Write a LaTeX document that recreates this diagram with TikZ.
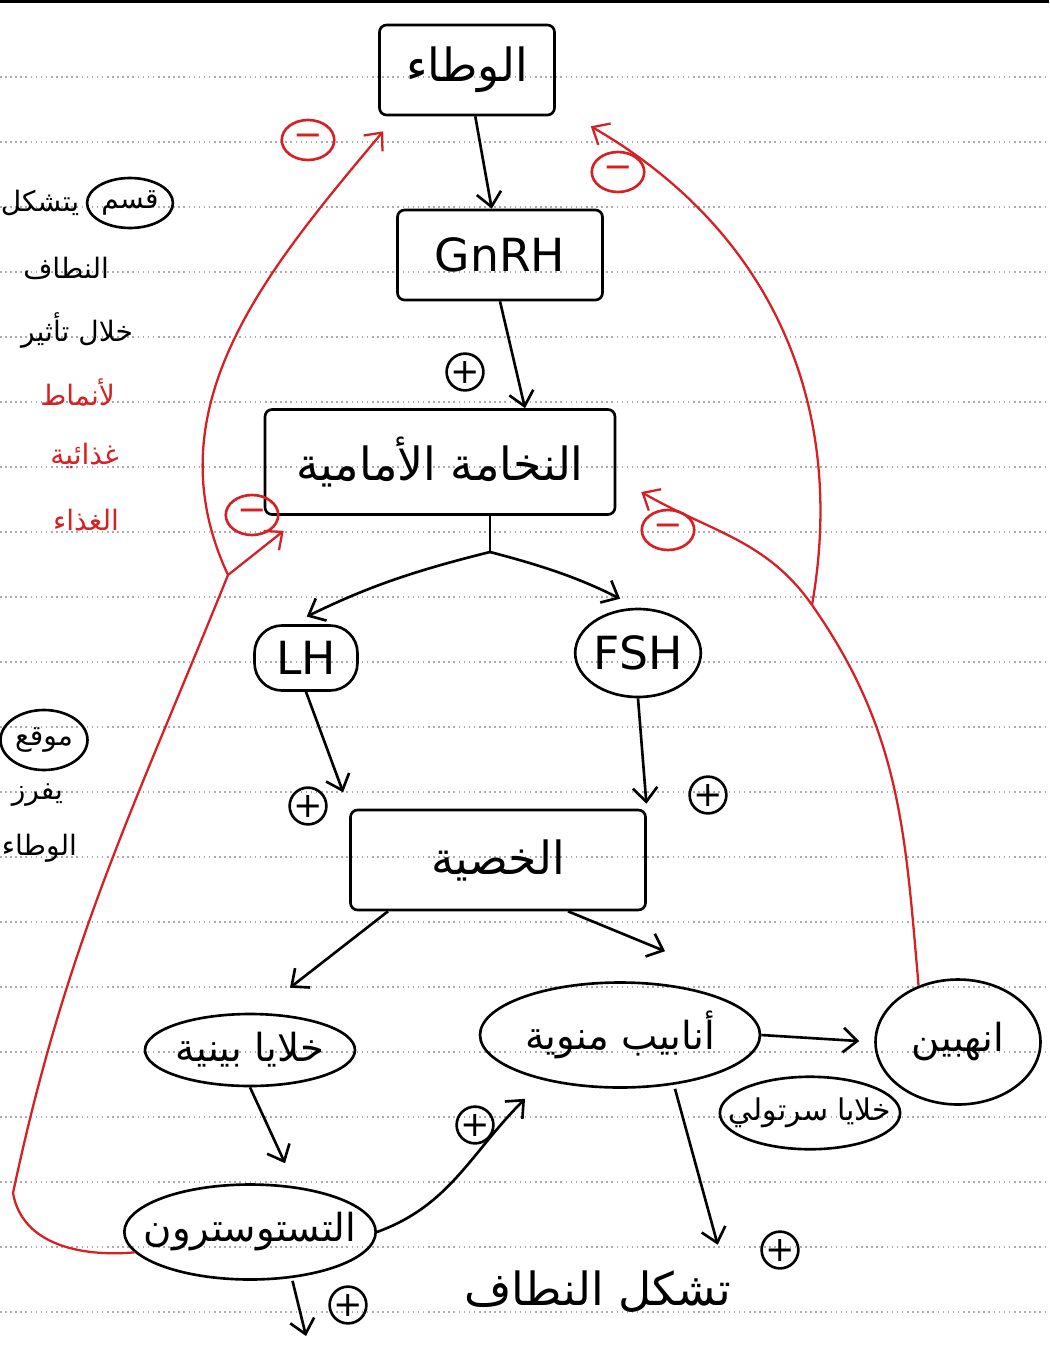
\documentclass[tikz,border=0pt]{standalone}
\usepackage{fontspec}
\setmainfont{DejaVu Sans}
\newfontfamily\arabicfont[Script=Arabic]{DejaVu Sans}
\TeXXeTstate=1
\usetikzlibrary{shapes.geometric,arrows.meta}

\definecolor{fbred}{RGB}{214,32,36}
\newcommand{\artxt}[1]{{\arabicfont\beginR #1\endR}}
\newcommand{\labtxt}{\fontsize{26}{30}\selectfont}
\newcommand{\celltxt}{\fontsize{22}{26}\selectfont}
\newcommand{\margtxt}{\fontsize{16}{19}\selectfont}

\tikzset{
  ruled/.style={gray!65, dotted, line width=0.9pt},
  organ/.style={draw, rectangle, rounded corners=4pt, font=\labtxt},
  cell/.style={draw, ellipse, inner sep=0pt, font=\celltxt},
  sign/.style={draw, circle, inner sep=0pt, minimum size=0.7cm,
    font=\fontsize{20}{20}\selectfont},
  neg/.style={sign, fbred, ellipse, minimum width=1.05cm, minimum height=0.8cm},
  arr/.style={->},
  fb/.style={fbred, line width=1.3pt},
}

\begin{document}
\begin{tikzpicture}[x=0.02cm, y=-0.02cm, line width=1.5pt,
    >={Straight Barb[length=8pt,width=14pt]}]
  \useasboundingbox (0,0) rectangle (1049,1349);

  % ruled paper
  \foreach \k in {1,...,20}
    \draw[ruled] (0,{12+65*\k}) -- (1049,{12+65*\k});
  \draw[line width=2.5pt] (0,1) -- (1049,1);

  % margin notes
  \begin{scope}[every node/.style={font=\margtxt, inner sep=1pt}]
    \node[draw, ellipse, minimum width=1.1cm, minimum height=1.0cm] (q1) at (130,203) {\artxt{قسم}};
    \node[anchor=east] (q2) at ([xshift=-2pt]q1.west) {\artxt{يتشكل}};
    \node[anchor=east] (q3) at (112,268) {\artxt{النطاف}};
    \node[anchor=east] (q4) at (136,330) {\artxt{خلال تأثير}};
    \node[anchor=east, fbred] (q5) at (118,392) {\artxt{لأنماط}};
    \node[anchor=east, fbred] (q6) at (122,456) {\artxt{غذائية}};
    \node[anchor=east, fbred] (q7) at (122,520) {\artxt{الغذاء}};
    \node[draw, ellipse, minimum width=1.15cm, minimum height=1.2cm] (m1) at (44,740) {\artxt{موقع}};
    \node[anchor=east] (m2) at (66,795) {\artxt{يفرز}};
    \node[anchor=east] (m3) at (80,848) {\artxt{الوطاء}};
  \end{scope}

  % organs and cells
  \begin{scope}[every node/.style={organ}]
    \node (hyp)    at (467,70)  [minimum width=3.5cm, minimum height=1.8cm] {\artxt{الوطاء}};
    \node (gnrh)   at (500,255) [minimum width=4.1cm, minimum height=1.8cm] {GnRH};
    \node (pit)    at (440,462) [minimum width=7.0cm, minimum height=2.1cm] {\artxt{النخامة الأمامية}};
    \node (testis) at (498,860) [minimum width=5.9cm, minimum height=2.0cm] {\artxt{الخصية}};
  \end{scope}

  \begin{scope}[every node/.style={cell}]
    \node (lh)      at (306,658)  [rectangle, rounded corners=0.55cm, minimum width=2.06cm, minimum height=1.3cm, font=\labtxt] {LH};
    \node (fsh)     at (638,653)  [minimum width=2.36cm, minimum height=1.76cm, font=\labtxt] {FSH};
    \node (leydig)  at (250,1050) [minimum width=4.2cm, minimum height=1.44cm] {\artxt{خلايا بينية}};
    \node (tubules) at (620,1035) [minimum width=5.6cm, minimum height=2.1cm] {\artxt{أنابيب منوية}};
    \node (inhibin) at (958,1042) [minimum width=3.3cm, minimum height=2.5cm] {\artxt{انهبين}};
    \node (sertoli) at (810,1113) [inner xsep=-0.35cm, minimum width=3.4cm, minimum height=1.45cm, font=\fontsize{17}{20}\selectfont] {\artxt{خلايا سرتولي}};
    \node (testo)   at (250,1232) [inner xsep=-0.35cm, minimum width=5.0cm, minimum height=1.9cm] {\artxt{التستوسترون}};
  \end{scope}
  \node[font=\labtxt] (sperm) at (598,1292) {\artxt{تشكل النطاف}};

  % signs
  \node[sign] (p1) at (465,372)  {+};
  \node[sign] (p2) at (308,806)  {+};
  \node[sign] (p3) at (708,795)  {+};
  \node[sign] (p4) at (475,1125) {+};
  \node[sign] (p5) at (780,1250) {+};
  \node[sign] (p6) at (348,1305) {+};
  \node[neg]  (n1) at (308,140)  {−};
  \node[neg]  (n2) at (618,172)  {−};
  \node[neg]  (n3) at (252,515)  {−};
  \node[neg]  (n4) at (668,530)  {−};

  % stimulating paths
  \coordinate (fork) at (490,552);
  \coordinate (down) at (306,1336);
  \draw[arr] (hyp) -- (gnrh);
  \draw[arr] (gnrh.south) -- ([xshift=1.7cm]pit.north);
  \draw (pit.south -| fork) -- (fork);
  \draw[arr, shorten >=0.35cm] (fork) to[bend right=6] ([xshift=-0.3cm]lh.north);
  \draw[arr, shorten >=0.4cm] (fork) to[bend left=6] (fsh.north);
  \draw[arr, shorten >=0.35cm] (lh.south) -- (testis.north west);
  \draw[arr, shorten >=0.1cm] (fsh.south) -- (testis.north east);
  \draw[arr] ([xshift=-2.2cm]testis.south) -- ([xshift=0.8cm,yshift=0.5cm]leydig.north);
  \draw[arr] ([xshift=1.4cm]testis.south) -- ([xshift=0.9cm,yshift=0.6cm]tubules.north);
  \draw[arr] (leydig.south) -- ([xshift=0.7cm,yshift=0.4cm]testo.north);
  \draw[arr] (testo.east) to[out=20,in=225] ([xshift=-1.9cm,yshift=-0.2cm]tubules.south);
  \draw[arr, shorten >=0.4cm] ([xshift=1.1cm]tubules.south) -- ([xshift=2.5cm]sperm.north);
  \draw[arr, shorten >=0.3cm] (tubules.east) -- (inhibin.west);
  \draw[arr] ([xshift=0.85cm]testo.south) -- (down);

  % negative feedback
  \coordinate (lsplit) at (228,575);
  \coordinate (lbend)  at (13,1193);
  \coordinate (rsplit) at (812,605);
  \draw[fb] (testo.190) to[out=185,in=-80] (lbend) to[out=78,in=-112] (lsplit);
  \draw[fb, ->] (lsplit) -- ([xshift=0.4cm,yshift=-0.3cm]pit.south west);
  \draw[fb, ->] (lsplit) to[out=115,in=230] ([xshift=0.1cm,yshift=-0.3cm]hyp.south west);
  \draw[fb] (inhibin.125) to[out=95,in=-55] (rsplit);
  \draw[fb, ->] (rsplit) to[out=125,in=-30] ([xshift=0.5cm,yshift=-0.6cm]pit.east);
  \draw[fb, ->] (rsplit) to[out=80,in=-30] ([xshift=0.7cm,yshift=-0.2cm]hyp.south east);
\end{tikzpicture}
\end{document}
